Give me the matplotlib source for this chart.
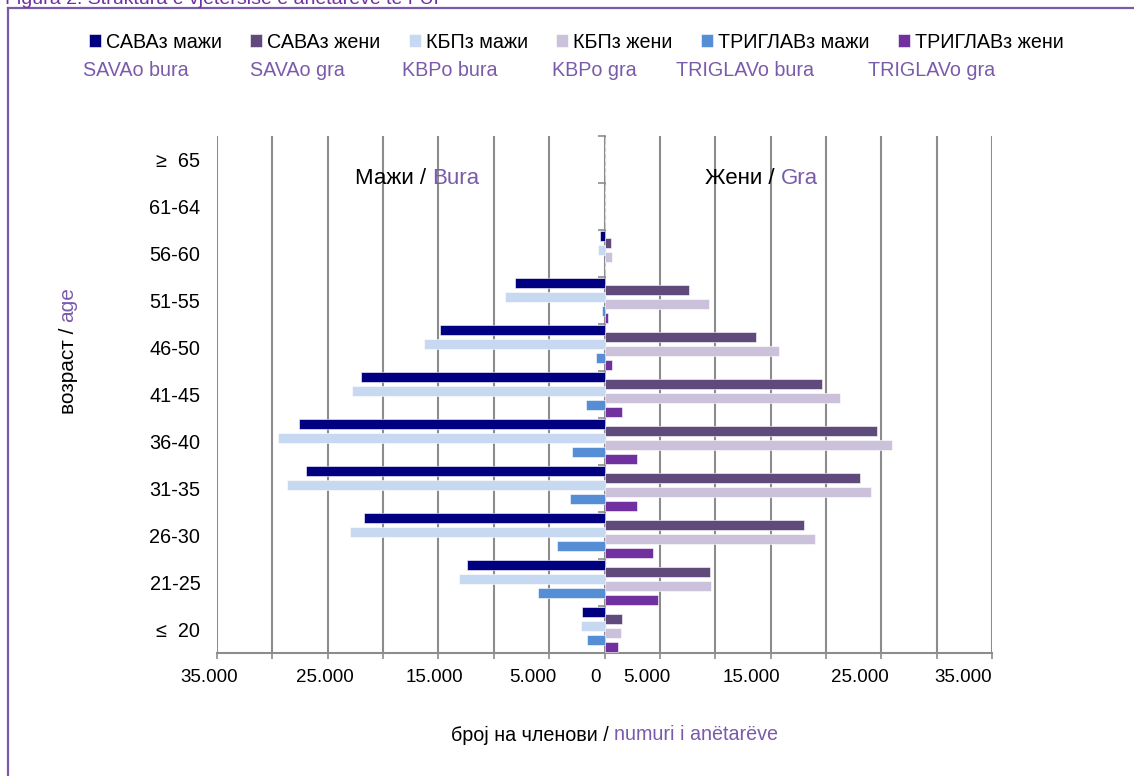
import matplotlib
matplotlib.use('Agg')
import matplotlib.pyplot as plt
from matplotlib.lines import Line2D
import matplotlib.transforms as mtransforms
import numpy as np

plt.rcParams['font.family'] = ['Liberation Sans', 'DejaVu Sans']

# ---------------- data ----------------
age_groups = ['≤  20', '21-25', '26-30', '31-35', '36-40', '41-45',
              '46-50', '51-55', '56-60', '61-64', '≥  65']
sava_m = [2050, 12400, 21700, 27000, 27600, 22000, 14900, 8050, 450, 0, 0]
sava_f = [1600, 9500, 18000, 23050, 24600, 19600, 13650, 7600, 550, 0, 0]
kbp_m = [2150, 13100, 23000, 28700, 29500, 22800, 16300, 8950, 550, 0, 0]
kbp_f = [1500, 9650, 19000, 24050, 25950, 21300, 15800, 9400, 700, 0, 0]
tri_m = [1600, 6050, 4250, 3150, 2900, 1650, 800, 250, 0, 0, 0]
tri_f = [1200, 4800, 4350, 2950, 2900, 1600, 700, 350, 0, 0, 0]

legend_mk = ['САВАз мажи', 'САВАз жени', 'КБПз мажи', 'КБПз жени',
             'ТРИГЛАВз мажи', 'ТРИГЛАВз жени']
legend_al = ['SAVAo bura', 'SAVAo gra', 'KBPo bura', 'KBPo gra',
             'TRIGLAVo bura', 'TRIGLAVo gra']
tick_texts = ['35.000', '25.000', '15.000', '5.000', '0',
              '5.000', '15.000', '25.000', '35.000']
title = 'Figura 2. Struktura e vjetërsisë e anëtarëve të FUP'

# ---------------- style / layout ----------------
colors = ['#000080', '#604A7B', '#C6D9F1', '#CCC1DA', '#558ED5', '#7030A0']
purple_txt = '#7A5BAA'
grid_c = '#8C8C8C'
W, H = 1134, 776
# where Excel drew the tick labels (data units)
tick_label_pos = [-35700, -25300, -15400, -6500, -800, 3800, 13300, 23050, 32350]
legend_al_x = [83, 250, 402, 552, 676, 868]

fig = plt.figure(figsize=(W / 100, H / 100), dpi=100)
ax = fig.add_axes([217 / W, 1 - 653 / H, (992 - 217) / W, (653 - 136) / H])

series = [(sava_m, -1), (sava_f, 1), (kbp_m, -1), (kbp_f, 1), (tri_m, -1), (tri_f, 1)]
y = np.arange(len(age_groups))
slot = 7 / 47
bh = 9.5 / 47
handles = []
for i, ((vals, sgn), c) in enumerate(zip(series, colors)):
    b = ax.barh(y + (2.5 - i) * slot, sgn * np.asarray(vals), height=bh,
                color=c, edgecolor='white', linewidth=0.4, zorder=3)
    handles.append(b)

ax.set_xlim(-35000, 35000)
ax.set_ylim(-0.5, len(age_groups) - 0.5)

# vertical gridlines every 5000
ax.set_xticks(np.arange(-35000, 35001, 5000))
ax.tick_params(axis='x', length=4, color=grid_c, width=1.2, labelbottom=False)
ax.xaxis.grid(True, color=grid_c, linewidth=1.5, zorder=0)
ax.set_axisbelow(True)

for s in ['top', 'right']:
    ax.spines[s].set_visible(False)
ax.spines['bottom'].set_color(grid_c)
ax.spines['bottom'].set_linewidth(1.5)
ax.spines['left'].set_position(('data', 0))
ax.spines['left'].set_color(grid_c)
ax.spines['left'].set_linewidth(1.2)
ax.set_yticks([])
ax.set_yticks(np.arange(-0.5, len(age_groups), 1), minor=True)
ax.tick_params(axis='y', which='minor', length=5, color=grid_c, width=1.2,
               direction='out', labelleft=False)

# category labels at the left of the plot area
sy = ax.secondary_yaxis('left')
sy.set_yticks(y, age_groups)
sy.tick_params(length=0, pad=12, labelsize=14.3)
sy.spines['left'].set_visible(False)

# x tick labels (Excel placement)
trans = mtransforms.blended_transform_factory(ax.transData, fig.transFigure)
for p, t in zip(tick_label_pos, tick_texts):
    ax.text(p, 1 - 677 / H, t, transform=trans, ha='center', va='center',
            fontsize=13.5, clip_on=False)

# legend row 1
leg = fig.legend(handles, legend_mk, ncol=6, frameon=False, fontsize=14.2,
                 loc='center left', bbox_to_anchor=(89 / W, 1 - 42 / H),
                 handlelength=0.6, handleheight=0.6, handletextpad=0.25,
                 columnspacing=1.45, borderaxespad=0, borderpad=0)
# legend row 2 (Albanian)
for t, x in zip(legend_al, legend_al_x):
    fig.text(x / W, 1 - 71 / H, t, color=purple_txt, fontsize=14.2,
             ha='left', va='center')

# two-colour labels
def two_part(xs, ys, a, b, size=13.5, rot=0):
    if rot == 0:
        fig.text(xs, ys, a, color='black', fontsize=size, ha='right', va='center')
        fig.text(xs, ys, b, color=purple_txt, fontsize=size, ha='left', va='center')
    else:
        fig.text(xs, ys, a, color='black', fontsize=size, ha='center', va='top',
                 rotation=90)
        fig.text(xs, ys, b, color=purple_txt, fontsize=size, ha='center',
                 va='bottom', rotation=90)

two_part(432 / W, 1 - 179 / H, 'Мажи / ', 'Bura', size=16)
two_part(781 / W, 1 - 179 / H, 'Жени / ', 'Gra', size=16)
two_part(614 / W, 1 - 735 / H, 'број на членови / ', 'numuri i anëtarëve', size=14.2)
two_part(68 / W, 1 - 322 / H, 'возраст / ', 'age', size=15, rot=90)

# outer frame (top and left) and cropped title
fc = '#7A5AAA'
fig.add_artist(Line2D([8 / W, 8 / W], [0, 1 - 8 / H], color=fc, lw=1.6,
                      transform=fig.transFigure))
fig.add_artist(Line2D([8 / W, 1], [1 - 8 / H, 1 - 8 / H], color=fc, lw=1.6,
                      transform=fig.transFigure))
fig.text(5 / W, 1 - 4 / H, title, color='#7030A0', fontsize=14,
         ha='left', va='baseline')

fig.savefig('out.png', dpi=100)
